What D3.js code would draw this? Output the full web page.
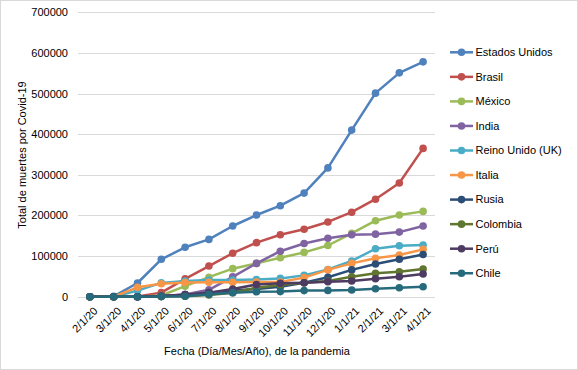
<!DOCTYPE html>
<html lang="es">
<head>
<meta charset="UTF-8">
<title>Muertes por Covid-19</title>
<style>
  body { margin: 0; background: #fff; }
  svg { font-family: "Liberation Sans", Arial, sans-serif; }
</style>
</head>
<body>
<script src="https://d3js.org/d3.v7.min.js"></script>
<script>
// fechas (eje x)
var fechas = ["2/1/20", "3/1/20", "4/1/20", "5/1/20", "6/1/20", "7/1/20", "8/1/20", "9/1/20",
    "10/1/20", "11/1/20", "12/1/20", "1/1/21", "2/1/21", "3/1/21", "4/1/21"];
var paises = ["Estados Unidos", "Brasil", "México", "India", "Reino Unido (UK)", "Italia",
    "Rusia", "Colombia", "Perú", "Chile"];
var colores = ["#4F81BD", "#C0504D", "#9BBB59", "#8064A2", "#4BACC6", "#F79646",
    "#2C4D75", "#5F7530", "#4D3B62", "#276A7C"];

var estadosUnidos = [0, 1000, 33700, 92000, 121600, 141000, 174000, 201000, 224000, 255000, 317000, 410000, 501000, 551000, 578000];
var brasil        = [0, 0, 300, 10000, 44000, 75500, 107000, 133000, 152500, 166000, 184000, 208000, 240000, 280000, 365000];
var mexico        = [0, 0, 50, 3000, 26000, 48000, 69000, 82000, 96000, 109000, 126000, 156000, 187000, 201000, 210000];
var india         = [0, 0, 50, 1500, 5500, 17000, 49000, 82000, 112000, 131000, 144000, 152500, 154000, 159000, 174000];
var reinoUnido    = [0, 0, 15000, 34000, 38500, 41000, 41000, 42500, 45000, 52500, 67000, 88000, 118000, 125500, 127000];
var italia        = [0, 50, 23000, 32000, 35000, 35500, 35500, 36000, 36000, 47000, 66000, 82000, 94500, 102500, 116500];
var rusia         = [0, 0, 50, 1500, 5000, 10000, 15000, 19000, 24500, 34500, 48000, 66000, 80500, 92000, 104000];
var colombia      = [0, 0, 20, 300, 1000, 4000, 10000, 22000, 29000, 34500, 38500, 49000, 57500, 61500, 68000];
var peru          = [0, 0, 50, 1500, 5000, 10000, 19000, 30000, 33000, 34500, 37000, 38500, 44000, 49000, 56000];
var chile         = [0, 0, 10, 300, 1000, 6000, 10000, 12000, 12500, 15000, 15500, 16500, 19500, 22000, 24500];
var valores = [estadosUnidos, brasil, mexico, india, reinoUnido, italia, rusia, colombia, peru, chile];

var yTicks = [0, 100000, 200000, 300000, 400000, 500000, 600000, 700000];

const width = 578, height = 370;
const plot = { left: 78, right: 435, top: 12.3, bottom: 296.7 };

const svg = d3.select("body").append("svg")
    .attr("width", width)
    .attr("height", height);

// borde del grafico
svg.append("rect")
    .attr("x", 0.5).attr("y", 0.5)
    .attr("width", width - 1).attr("height", height - 1)
    .attr("fill", "#fff")
    .attr("stroke", "#d9d9d9");

const x = d3.scalePoint().domain(fechas).range([plot.left, plot.right]).padding(0.5);
const y = d3.scaleLinear().domain([0, 700000]).range([plot.bottom, plot.top]);

// lineas de cuadricula
svg.append("g")
    .selectAll("line")
    .data(yTicks)
    .enter()
    .append("line")
    .attr("x1", plot.left).attr("x2", plot.right)
    .attr("y1", d => Math.round(y(d)) + 0.5)
    .attr("y2", d => Math.round(y(d)) + 0.5)
    .attr("stroke", "#d9d9d9")
    .attr("stroke-width", 1);

// eje y
const yAxis = svg.append("g")
    .attr("transform", "translate(" + plot.left + ",0)")
    .call(d3.axisLeft(y).tickValues(yTicks).tickFormat(d3.format("d")).tickSize(0).tickPadding(10));
yAxis.select(".domain").remove();
yAxis.selectAll("text").attr("font-size", 11).attr("fill", "#000").style("font-family", "Liberation Sans, Arial, sans-serif");

// eje x
const xAxis = svg.append("g")
    .attr("transform", "translate(0," + plot.bottom + ")")
    .call(d3.axisBottom(x).tickSize(0).tickPadding(6));
xAxis.select(".domain").remove();
xAxis.selectAll("text")
    .attr("font-size", 11)
    .attr("fill", "#000")
    .style("font-family", "Liberation Sans, Arial, sans-serif")
    .attr("text-anchor", "end")
    .attr("dy", "0.35em")
    .attr("transform", "translate(1,8) rotate(-45)");

// titulos de ejes
svg.append("text")
    .attr("x", 257).attr("y", 355)
    .attr("text-anchor", "middle")
    .attr("font-size", 11)
    .text("Fecha (Día/Mes/Año), de la pandemia");

svg.append("text")
    .attr("transform", "translate(26,155) rotate(-90)")
    .attr("text-anchor", "middle")
    .attr("font-size", 11)
    .text("Total de muertes por Covid-19");

// series
const line = d3.line()
    .x((d, i) => x(fechas[i]))
    .y(d => y(d));

valores.forEach(function (serie, k) {
    const g = svg.append("g");
    g.append("path")
        .datum(serie)
        .attr("fill", "none")
        .attr("stroke", colores[k])
        .attr("stroke-width", 2.5)
        .attr("stroke-linejoin", "round")
        .attr("d", line);
    g.selectAll("circle")
        .data(serie)
        .enter()
        .append("circle")
        .attr("cx", (d, i) => x(fechas[i]))
        .attr("cy", d => y(d))
        .attr("r", 3.8)
        .attr("fill", colores[k]);
});

// leyenda
const legend = svg.append("g")
    .selectAll("g")
    .data(paises)
    .enter()
    .append("g")
    .attr("transform", (d, i) => "translate(450," + (52.3 + i * 24.55) + ")");
legend.append("line")
    .attr("x1", 0).attr("x2", 23)
    .attr("stroke", (d, i) => colores[i])
    .attr("stroke-width", 2.5);
legend.append("circle")
    .attr("cx", 11.5).attr("r", 3.8)
    .attr("fill", (d, i) => colores[i]);
legend.append("text")
    .attr("x", 25.5).attr("dy", "0.35em")
    .attr("font-size", 11)
    .text(d => d);
</script>
</body>
</html>
